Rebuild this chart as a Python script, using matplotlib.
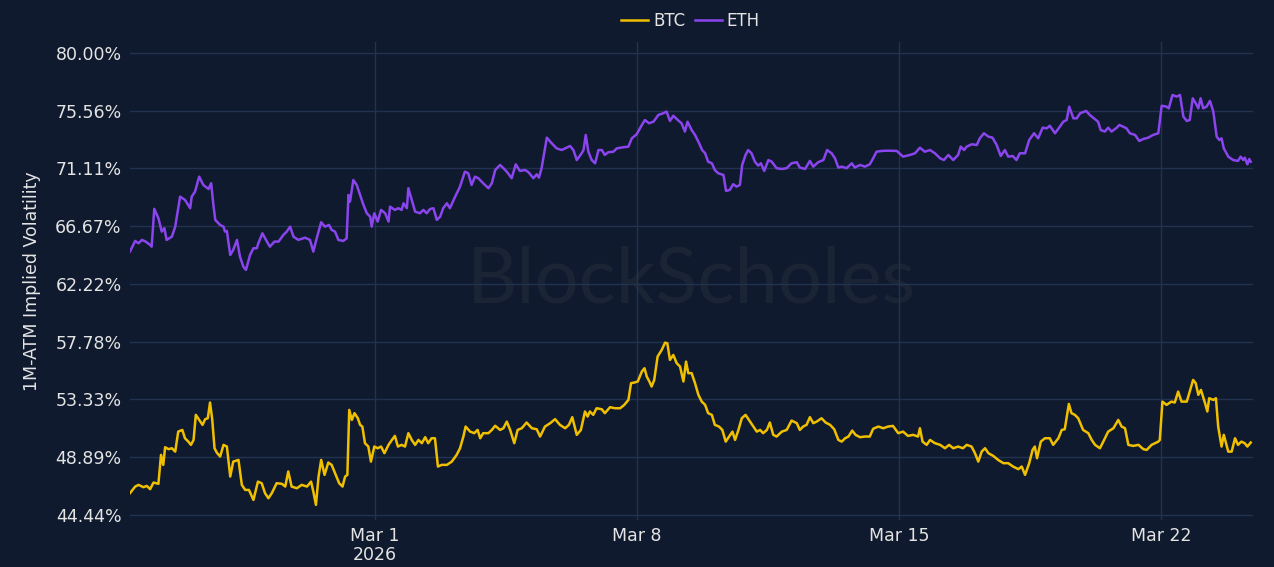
"""1M ATM implied volatility, BTC vs ETH (BlockScholes style, dark theme)."""

import matplotlib
matplotlib.use("Agg")
import matplotlib.dates as mdates
import matplotlib.pyplot as plt
import pandas as pd

# --- data: days from 2026-03-01 00:00 and vol in % ---
eth_day = [
    -6.55, -6.41, -6.32, -6.23, -6.13, -6.01, -5.97, -5.90, -5.79, -5.70,
    -5.63, -5.57, -5.43, -5.34, -5.21, -5.08, -4.94, -4.90, -4.81, -4.70,
    -4.59, -4.45, -4.38, -4.32, -4.27, -4.14, -4.05, -4.01, -3.96, -3.87,
    -3.79, -3.69, -3.61, -3.52, -3.45, -3.34, -3.25, -3.16, -3.12, -3.01,
    -2.89, -2.81, -2.69, -2.58, -2.45, -2.36, -2.27, -2.18, -2.05, -1.87,
    -1.74, -1.65, -1.56, -1.44, -1.34, -1.23, -1.16, -1.07, -0.98, -0.85,
    -0.76, -0.71, -0.67, -0.58, -0.49, -0.40, -0.31, -0.22, -0.13, -0.09,
    -0.02, 0.07, 0.16, 0.27, 0.36, 0.40, 0.53, 0.62, 0.71, 0.76,
    0.85, 0.89, 0.98, 1.07, 1.20, 1.29, 1.38, 1.47, 1.56, 1.65,
    1.74, 1.82, 1.92, 2.00, 2.14, 2.27, 2.40, 2.49, 2.58, 2.67,
    2.76, 2.89, 3.03, 3.12, 3.21, 3.34, 3.43, 3.52, 3.65, 3.76,
    3.87, 4.01, 4.10, 4.23, 4.32, 4.38, 4.45, 4.59, 4.72, 4.85,
    4.99, 5.12, 5.21, 5.30, 5.39, 5.52, 5.57, 5.63, 5.70, 5.79,
    5.88, 5.97, 6.06, 6.14, 6.23, 6.37, 6.46, 6.63, 6.77, 6.86,
    6.99, 7.13, 7.21, 7.32, 7.44, 7.57, 7.70, 7.79, 7.88, 7.97,
    8.09, 8.19, 8.28, 8.35, 8.46, 8.55, 8.66, 8.74, 8.82, 8.90,
    9.00, 9.08, 9.17, 9.31, 9.38, 9.48, 9.57, 9.66, 9.75, 9.81,
    9.90, 9.97, 10.06, 10.15, 10.24, 10.31, 10.40, 10.51, 10.60, 10.73,
    10.87, 11.00, 11.13, 11.27, 11.35, 11.49, 11.62, 11.71, 11.84, 11.98,
    12.08, 12.20, 12.29, 12.38, 12.47, 12.60, 12.74, 12.82, 12.96, 13.09,
    13.22, 13.31, 13.40, 13.54, 13.71, 13.94, 14.11, 14.29, 14.43, 14.56,
    14.69, 14.83, 14.96, 15.10, 15.20, 15.32, 15.45, 15.58, 15.65, 15.74,
    15.81, 15.94, 16.08, 16.16, 16.27, 16.39, 16.50, 16.61, 16.72, 16.83,
    16.92, 17.04, 17.14, 17.23, 17.37, 17.48, 17.61, 17.72, 17.84, 17.95,
    18.03, 18.17, 18.30, 18.39, 18.48, 18.55, 18.66, 18.75, 18.84, 19.00,
    19.10, 19.21, 19.32, 19.39, 19.50, 19.59, 19.68, 19.82, 19.89, 19.99,
    20.08, 20.17, 20.31, 20.42, 20.53, 20.66, 20.79, 20.93, 21.02, 21.15,
    21.21, 21.31, 21.42, 21.51, 21.60, 21.69, 21.77, 21.85, 21.93, 22.00,
    22.06, 22.13, 22.22, 22.31, 22.40, 22.49, 22.56, 22.62, 22.68, 22.80,
    22.93, 23.06, 23.13, 23.20, 23.24, 23.31, 23.36, 23.40,
]
eth_vol = [
    64.71, 65.53, 65.35, 65.61, 65.48, 65.22, 65.09, 68.00, 67.28, 66.25,
    66.51, 65.61, 65.86, 66.63, 68.94, 68.69, 68.05, 68.94, 69.33, 70.48,
    69.84, 69.53, 69.97, 68.30, 67.15, 66.76, 66.63, 66.25, 66.30, 64.45,
    64.84, 65.61, 64.32, 63.55, 63.30, 64.45, 64.97, 64.97, 65.35, 66.12,
    65.48, 65.09, 65.48, 65.48, 65.99, 66.25, 66.63, 65.86, 65.61, 65.78,
    65.61, 64.71, 65.73, 66.97, 66.63, 66.76, 66.38, 66.25, 65.61, 65.53,
    65.73, 69.07, 68.56, 70.22, 69.84, 69.07, 68.30, 67.66, 67.40, 66.63,
    67.66, 67.02, 67.92, 67.66, 67.02, 68.17, 67.92, 68.05, 67.92, 68.43,
    68.05, 69.59, 68.69, 67.79, 67.66, 67.92, 67.66, 67.99, 68.05, 67.15,
    67.40, 68.05, 68.43, 68.05, 68.94, 69.71, 70.86, 70.74, 69.84, 70.48,
    70.36, 69.97, 69.59, 69.97, 70.99, 71.38, 71.13, 70.86, 70.36, 71.43,
    70.92, 70.99, 70.82, 70.36, 70.66, 70.40, 71.13, 73.48, 73.05, 72.66,
    72.53, 72.71, 72.84, 72.53, 71.76, 72.28, 72.53, 73.69, 72.40, 71.76,
    71.51, 72.53, 72.53, 72.15, 72.36, 72.40, 72.66, 72.74, 72.79, 73.43,
    73.74, 74.46, 74.84, 74.59, 74.71, 75.23, 75.36, 75.49, 74.77, 75.17,
    74.84, 74.59, 73.95, 74.71, 74.07, 73.69, 73.05, 72.53, 72.28, 71.63,
    71.51, 70.99, 70.74, 70.61, 69.38, 69.46, 69.90, 69.71, 69.84, 71.38,
    72.15, 72.53, 72.28, 71.63, 71.33, 71.51, 70.92, 71.76, 71.63, 71.13,
    71.07, 71.13, 71.51, 71.59, 71.18, 71.07, 71.69, 71.25, 71.59, 71.76,
    72.53, 72.28, 71.89, 71.18, 71.25, 71.13, 71.51, 71.18, 71.38, 71.25,
    71.43, 71.89, 72.40, 72.46, 72.48, 72.46, 72.02, 72.15, 72.28, 72.71,
    72.40, 72.53, 72.28, 71.89, 71.76, 72.15, 71.76, 72.15, 72.79, 72.53,
    72.79, 72.97, 72.92, 73.43, 73.82, 73.56, 73.48, 72.92, 72.07, 72.53,
    72.02, 72.07, 71.76, 72.28, 72.28, 73.30, 73.82, 73.43, 74.25, 74.20,
    74.40, 73.82, 74.33, 74.71, 74.84, 75.87, 74.97, 74.97, 75.36, 75.54,
    75.23, 74.97, 74.71, 74.07, 73.95, 74.25, 73.95, 74.25, 74.46, 74.33,
    74.20, 73.82, 73.69, 73.23, 73.38, 73.48, 73.69, 73.82, 75.94, 75.87,
    75.74, 76.77, 76.64, 76.77, 75.10, 74.77, 74.84, 76.51, 76.13, 75.74,
    76.51, 75.74, 75.87, 76.31, 75.49, 73.56, 73.30, 73.43, 72.66, 72.02,
    71.76, 71.69, 72.02, 71.76, 71.94, 71.43, 71.84, 71.63,
]

btc_day = [
    -6.55, -6.41, -6.32, -6.19, -6.10, -6.01, -5.92, -5.79, -5.72, -5.66,
    -5.61, -5.52, -5.43, -5.34, -5.26, -5.15, -5.08, -4.99, -4.92, -4.85,
    -4.79, -4.70, -4.61, -4.54, -4.47, -4.41, -4.35, -4.29, -4.23, -4.14,
    -4.05, -3.96, -3.87, -3.79, -3.65, -3.56, -3.47, -3.37, -3.25, -3.13,
    -3.03, -2.94, -2.85, -2.76, -2.63, -2.49, -2.40, -2.32, -2.23, -2.09,
    -1.96, -1.82, -1.71, -1.65, -1.58, -1.51, -1.44, -1.35, -1.25, -1.16,
    -1.07, -0.96, -0.87, -0.80, -0.74, -0.69, -0.62, -0.55, -0.46, -0.40,
    -0.34, -0.27, -0.18, -0.11, -0.02, 0.07, 0.16, 0.25, 0.36, 0.45,
    0.53, 0.61, 0.71, 0.80, 0.89, 0.98, 1.07, 1.16, 1.25, 1.34,
    1.42, 1.51, 1.60, 1.68, 1.78, 1.92, 2.05, 2.18, 2.27, 2.36,
    2.42, 2.54, 2.65, 2.74, 2.81, 2.89, 3.03, 3.12, 3.21, 3.34,
    3.43, 3.52, 3.61, 3.72, 3.81, 3.92, 4.05, 4.19, 4.32, 4.41,
    4.54, 4.68, 4.81, 4.94, 5.08, 5.18, 5.27, 5.39, 5.50, 5.61,
    5.68, 5.74, 5.83, 5.92, 6.06, 6.14, 6.28, 6.41, 6.55, 6.66,
    6.77, 6.84, 6.93, 7.02, 7.13, 7.20, 7.26, 7.33, 7.39, 7.46,
    7.55, 7.66, 7.75, 7.81, 7.88, 7.97, 8.06, 8.15, 8.24, 8.31,
    8.37, 8.46, 8.55, 8.64, 8.73, 8.82, 8.90, 9.00, 9.08, 9.19,
    9.28, 9.37, 9.46, 9.55, 9.62, 9.71, 9.80, 9.90, 9.99, 10.08,
    10.20, 10.29, 10.37, 10.47, 10.55, 10.64, 10.73, 10.87, 11.00, 11.13,
    11.27, 11.35, 11.44, 11.53, 11.62, 11.71, 11.80, 11.93, 12.04, 12.16,
    12.27, 12.38, 12.47, 12.56, 12.65, 12.75, 12.84, 12.96, 13.09, 13.22,
    13.31, 13.45, 13.58, 13.71, 13.84, 13.98, 14.11, 14.24, 14.38, 14.51,
    14.56, 14.63, 14.74, 14.83, 14.96, 15.10, 15.23, 15.34, 15.45, 15.58,
    15.71, 15.81, 15.94, 16.03, 16.12, 16.21, 16.30, 16.39, 16.52, 16.65,
    16.79, 16.92, 17.05, 17.19, 17.28, 17.37, 17.48, 17.57, 17.63, 17.69,
    17.79, 17.90, 18.03, 18.12, 18.26, 18.35, 18.43, 18.54, 18.61, 18.70,
    18.79, 18.92, 19.06, 19.15, 19.24, 19.37, 19.46, 19.59, 19.73, 19.86,
    19.95, 20.04, 20.13, 20.26, 20.40, 20.53, 20.62, 20.75, 20.93, 20.97,
    21.04, 21.15, 21.28, 21.37, 21.46, 21.55, 21.69, 21.77, 21.86, 21.93,
    22.00, 22.07, 22.18, 22.24, 22.29, 22.40, 22.47, 22.53, 22.62, 22.68,
    22.80, 22.89, 22.98, 23.06, 23.15, 23.24, 23.31, 23.40,
]
btc_vol = [
    46.11, 46.62, 46.75, 46.57, 46.67, 46.42, 46.93, 46.83, 49.06, 48.29,
    49.65, 49.50, 49.57, 49.31, 50.85, 50.98, 50.34, 50.08, 49.83, 50.21,
    52.14, 51.75, 51.37, 51.81, 51.88, 53.09, 51.75, 49.57, 49.24, 48.93,
    49.83, 49.70, 47.39, 48.54, 48.67, 46.75, 46.36, 46.36, 45.59, 47.00,
    46.88, 46.11, 45.72, 46.11, 46.88, 46.83, 46.62, 47.78, 46.62, 46.49,
    46.75, 46.62, 47.00, 46.24, 45.21, 47.39, 48.67, 47.52, 48.47, 48.29,
    47.65, 46.88, 46.62, 47.39, 47.52, 52.52, 51.75, 52.27, 51.88, 51.37,
    51.24, 49.96, 49.70, 48.54, 49.70, 49.57, 49.70, 49.19, 49.83, 50.21,
    50.52, 49.70, 49.83, 49.70, 50.73, 50.21, 49.83, 50.21, 49.96, 50.42,
    49.96, 50.34, 50.34, 48.16, 48.29, 48.29, 48.54, 49.06, 49.57, 50.47,
    51.24, 50.85, 50.73, 50.98, 50.34, 50.73, 50.73, 50.98, 51.30, 50.98,
    51.11, 51.62, 50.98, 49.96, 50.98, 51.11, 51.55, 51.11, 51.03, 50.47,
    51.24, 51.50, 51.81, 51.37, 51.11, 51.37, 51.96, 50.60, 50.98, 52.40,
    52.01, 52.40, 52.14, 52.65, 52.57, 52.27, 52.73, 52.65, 52.65, 52.91,
    53.29, 54.58, 54.63, 54.71, 55.48, 55.73, 55.09, 54.71, 54.32, 54.83,
    56.63, 57.14, 57.70, 57.65, 56.37, 56.75, 56.12, 55.86, 54.71, 56.24,
    55.35, 55.35, 54.58, 53.68, 53.16, 52.91, 52.27, 52.14, 51.37, 51.24,
    50.98, 50.08, 50.47, 50.85, 50.21, 50.98, 51.88, 52.14, 51.75, 51.37,
    50.85, 50.98, 50.73, 50.98, 51.55, 50.60, 50.47, 50.85, 50.98, 51.70,
    51.50, 50.98, 51.24, 51.37, 51.96, 51.50, 51.62, 51.88, 51.55, 51.37,
    51.03, 50.21, 50.08, 50.34, 50.47, 50.93, 50.60, 50.42, 50.47, 50.47,
    51.07, 51.24, 51.11, 51.24, 51.29, 50.73, 50.85, 50.52, 50.60, 50.47,
    51.11, 50.08, 49.83, 50.21, 49.96, 49.83, 49.57, 49.83, 49.57, 49.70,
    49.57, 49.83, 49.70, 49.19, 48.54, 49.31, 49.57, 49.19, 48.98, 48.67,
    48.42, 48.42, 48.16, 47.96, 48.16, 47.52, 48.42, 49.44, 49.70, 48.80,
    50.08, 50.34, 50.34, 49.83, 50.34, 50.98, 51.03, 52.98, 52.27, 52.14,
    51.88, 50.98, 50.73, 50.21, 49.83, 49.57, 50.08, 50.85, 51.11, 51.75,
    51.24, 51.11, 49.83, 49.75, 49.83, 49.50, 49.44, 49.83, 50.08, 50.21,
    53.16, 52.91, 53.16, 53.09, 53.93, 53.16, 53.16, 53.93, 54.83, 54.58,
    53.68, 54.06, 53.03, 52.40, 53.42, 53.29, 53.42, 51.24, 49.70, 50.60,
    49.31, 49.31, 50.34, 49.83, 50.08, 49.96, 49.70, 50.01,
]

y_ticks = [44.44, 48.89, 53.33, 57.78, 62.22, 66.67, 71.11, 75.56, 80.00]
x_tick_dates = ["2026-03-01", "2026-03-08", "2026-03-15", "2026-03-22"]
x_tick_labels = ["Mar 1\n2026", "Mar 8", "Mar 15", "Mar 22"]

BG = "#0f1a2e"
GRID = "#223250"
TEXT = "#e4e4e4"
BTC_COLOR = "#f0c000"
ETH_COLOR = "#8a45ee"


def to_times(days):
    start = pd.Timestamp("2026-03-01")
    return start + pd.to_timedelta(days, unit="D")


def main() -> None:
    plt.rcParams["font.family"] = ["DejaVu Sans"]

    fig = plt.figure(figsize=(12.74, 5.67), dpi=100, facecolor=BG)
    ax = fig.add_axes([0.102, 0.083, 0.8815, 0.843], facecolor=BG)

    # watermark
    ax.text(0.5, 0.5, "BlockScholes", transform=ax.transAxes, ha="center",
            va="center", fontsize=56, color="#1b2434", family="Lato",
            zorder=0.1)

    ax.plot(to_times(btc_day), btc_vol, color=BTC_COLOR, lw=1.8, label="BTC",
            zorder=3)
    ax.plot(to_times(eth_day), eth_vol, color=ETH_COLOR, lw=1.8, label="ETH",
            zorder=3)

    ax.set_xlim(to_times([-6.55])[0], to_times([23.46])[0])
    ax.set_ylim(44.05, 80.85)

    ax.set_yticks(y_ticks)
    ax.set_yticklabels([f"{v:.2f}%" for v in y_ticks])
    ax.set_xticks([mdates.date2num(pd.Timestamp(d)) for d in x_tick_dates])
    ax.set_xticklabels(x_tick_labels, linespacing=1.05)

    ax.set_axisbelow(True)
    ax.grid(True, color=GRID, lw=1.0)
    for s in ax.spines.values():
        s.set_visible(False)
    ax.tick_params(length=0, colors=TEXT, labelsize=12.5)
    ax.tick_params(axis="y", pad=6)
    ax.tick_params(axis="x", pad=5)
    ax.set_ylabel("1M-ATM Implied Volatility", color=TEXT, fontsize=12.5,
                  labelpad=10)

    fig.legend(loc="upper center", bbox_to_anchor=(0.542, 1.005), ncol=2,
               frameon=False, fontsize=12, labelcolor=TEXT, handlelength=1.6,
               handletextpad=0.3, columnspacing=0.6)

    fig.savefig("out.png", dpi=100, facecolor=BG)


if __name__ == "__main__":
    main()
